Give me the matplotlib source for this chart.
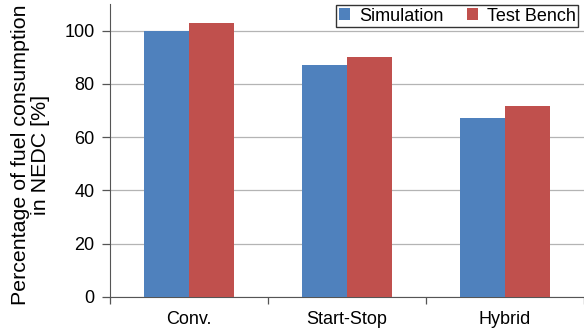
import numpy as np
import matplotlib.pyplot as plt

plt.rcParams['font.family'] = ['Liberation Sans', 'DejaVu Sans']

categories = ["Conv.", "Start-Stop", "Hybrid"]
simulation = [100, 87, 67]
test_bench = [103, 90, 71.5]

x = np.arange(len(categories))
w = 0.285

fig = plt.figure(figsize=(5.84, 3.31), dpi=100)
ax = fig.add_axes([0.188, 0.103, 0.812, 0.885])

ax.bar(x - w / 2, simulation, w, color="#4F81BD", label="Simulation", zorder=3)
ax.bar(x + w / 2, test_bench, w, color="#C0504D", label="Test Bench", zorder=3)

ax.set_xlim(-0.5, 2.5)
ax.set_ylim(0, 110)
ax.set_yticks([0, 20, 40, 60, 80, 100])
ax.yaxis.grid(True, color="#b4b4b4", linewidth=0.9, zorder=0)

# category labels in the middle, tick marks on the boundaries
ax.set_xticks(x)
ax.set_xticklabels(categories, fontsize=13)
ax.tick_params(axis="x", which="major", length=0, pad=10)
ax.set_xticks([-0.5, 0.5, 1.5, 2.5], minor=True)
ax.tick_params(axis="x", which="minor", length=5, width=0.9, color="#555555")
ax.tick_params(axis="y", length=6, width=0.9, color="#555555", labelsize=13, pad=5)

for s in ["top", "right"]:
    ax.spines[s].set_visible(False)
ax.spines["left"].set_color("#555555")
ax.spines["bottom"].set_color("#555555")

ax.set_ylabel("Percentage of fuel consumption\nin NEDC [%]", fontsize=15.4,
              linespacing=1.05)
ax.yaxis.set_label_coords(-0.126, 0.485)

leg = ax.legend(loc="upper right", ncol=2, fontsize=13, frameon=True, fancybox=False,
                handlelength=0.6, handleheight=0.6, handletextpad=0.5,
                columnspacing=1.3, borderpad=0.15, borderaxespad=0.05,
                bbox_to_anchor=(0.99, 1.0))
leg.get_frame().set_edgecolor("black")
leg.get_frame().set_linewidth(1.0)

fig.savefig("out.png", dpi=100)
